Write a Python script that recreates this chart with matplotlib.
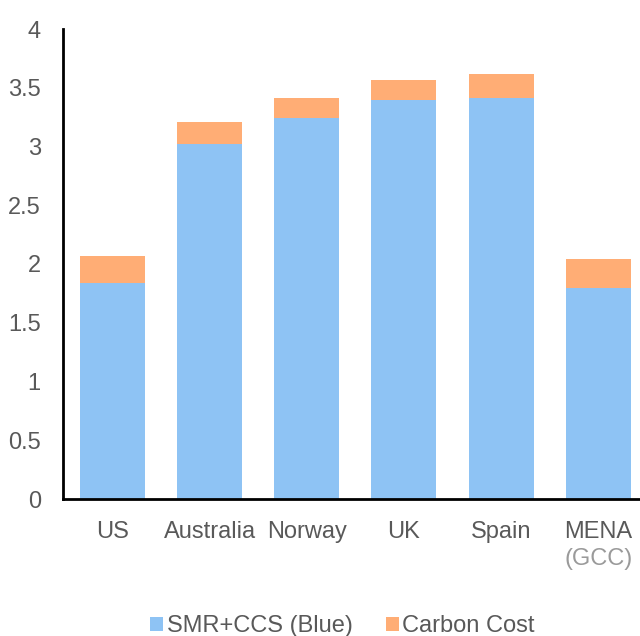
import matplotlib.pyplot as plt
import numpy as np

plt.rcParams['font.family'] = ['Liberation Sans', 'DejaVu Sans']

regions = ["US", "Australia", "Norway", "UK", "Spain", "MENA"]
smr_ccs = [1.84, 3.02, 3.24, 3.40, 3.41, 1.80]
carbon_cost = [0.23, 0.19, 0.17, 0.17, 0.21, 0.24]

blue = "#8EC3F4"
orange = "#FFAD75"
grey = "#595959"

fig = plt.figure(figsize=(6.4, 6.36), dpi=100)
ax = fig.add_axes([63 / 640, 137 / 636, 577 / 640, 470 / 636])

x = np.arange(len(regions))
ax.bar(x, smr_ccs, width=0.67, color=blue, label="SMR+CCS (Blue)")
ax.bar(x, carbon_cost, width=0.67, bottom=smr_ccs, color=orange, label="Carbon Cost")

ax.set_ylim(0, 4)
ax.set_yticks(np.arange(0, 4.01, 0.5))
ax.set_yticklabels(["0", "0.5", "1", "1.5", "2", "2.5", "3", "3.5", "4"])
ax.set_xlim(-0.51, 5.43)
ax.set_xticks(x)
ax.set_xticklabels(regions)
ax.tick_params(axis="both", length=0, labelsize=17, colors=grey)
ax.tick_params(axis="y", pad=16)
ax.tick_params(axis="x", pad=16)
ax.text(5, -0.42, "(GCC)", ha="center", va="top", fontsize=17, color="#9A9A9A")

for s in ["top", "right"]:
    ax.spines[s].set_visible(False)
ax.spines["left"].set_linewidth(2)
ax.spines["bottom"].set_linewidth(2)

fig.legend(loc="lower center", bbox_to_anchor=(0.535, -0.035), ncol=2, frameon=False,
           fontsize=17, handlelength=0.55, handleheight=0.55, handletextpad=0.15,
           columnspacing=1.4, labelcolor=grey)

fig.savefig("out.png", dpi=100)
